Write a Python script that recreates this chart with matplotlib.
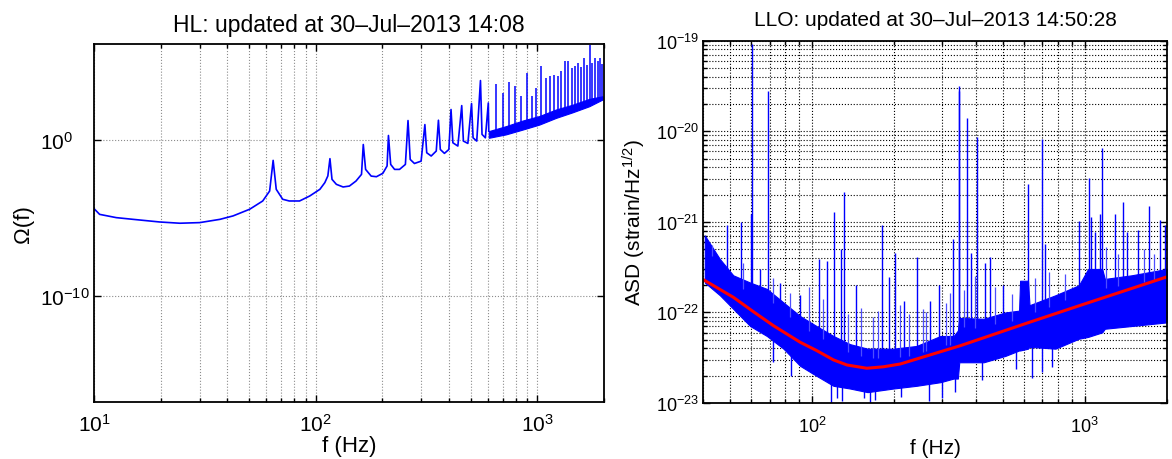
import matplotlib
matplotlib.use('Agg')
import matplotlib.pyplot as plt
import numpy as np
from matplotlib.ticker import LogLocator, FixedLocator, NullLocator, NullFormatter

plt.rcParams['font.family'] = ['Liberation Sans', 'DejaVu Sans']
plt.rcParams['mathtext.fontset'] = 'custom'
plt.rcParams['mathtext.rm'] = 'Liberation Sans'
plt.rcParams['mathtext.it'] = 'Liberation Sans:italic'
plt.rcParams['mathtext.default'] = 'regular'

# ---- HL panel: Omega(f), values read as log10 ----
hl_f = [10, 10.6, 12.6, 15, 19.8, 24.4, 30, 37, 42.4, 50.4, 57.7, 62, 64.3, 66.4, 71, 76, 84.6,
        94, 104.5, 110, 113.5, 116, 118.5, 124, 133, 142, 152, 161, 164, 168, 178, 188, 201,
        210, 213, 218, 227, 239, 254, 261, 267, 279, 299, 311, 317, 332, 350, 358, 365, 381,
        399, 408, 416, 438, 456, 464, 486, 505, 513, 533, 554, 563, 583, 601, 604]
hl_log = [-4.40, -4.77, -4.98, -5.09, -5.26, -5.34, -5.30, -5.09, -4.87, -4.44, -3.91, -3.27, -1.30,
          -3.16, -3.80, -3.91, -3.91, -3.59, -3.16, -2.73, -2.30, -1.19, -2.52, -2.84, -3.01,
          -2.95, -2.63, -2.20, -0.28, -1.88, -2.31, -2.35, -2.13, -1.66, 0.30, -1.56, -1.88,
          -1.88, -1.56, 1.26, -1.24, -1.50, -1.35, 1.00, -0.81, -1.02, -0.70, 1.28, -0.60,
          -0.85, -0.60, 1.97, -0.17, -0.38, 2.22, -0.06, -0.21, 2.35, 0.15, -0.06, 3.83, 0.37,
          0.15, 2.39, 0.58]

hl_band_f = [604, 722, 859, 1021, 1214, 1443, 1715, 1968]
hl_band_lo = [0.15, 0.37, 0.68, 1.00, 1.43, 1.79, 2.18, 2.61]
hl_band_hi = [0.58, 0.90, 1.26, 1.55, 1.97, 2.28, 2.65, 2.82]

hl_spike_f = [651, 701, 748, 796, 845, 896, 943, 989, 1040, 1090, 1138, 1187, 1236, 1284, 1333,
              1382, 1430, 1479, 1528, 1577, 1625, 1674, 1723, 1772, 1820, 1869, 1918, 1967]
hl_spike_top = [3.63, 3.03, 3.72, 3.50, 2.82, 4.34, 2.82, 3.36, 4.79, 4.00, 4.15, 4.21, 4.15, 4.43,
                5.07, 5.07, 4.64, 4.79, 4.93, 4.70, 5.28, 4.85, 6.13, 4.93, 5.28, 5.10, 5.30, 4.90]

# ---- LLO panel: ASD, values read as log10 ----
asd_band_f = [40.5, 46, 51.5, 59.4, 68.4, 78.7, 90.6, 104, 120, 138, 160, 199, 242, 296, 331, 343,
              347, 427, 512, 575, 580, 620, 628, 782, 953, 1030, 1160, 1186, 1486, 2000]
asd_band_lo = [-21.67, -21.81, -21.96, -22.15, -22.26, -22.40, -22.59, -22.70, -22.81, -22.84,
               -22.88, -22.84, -22.81, -22.77, -22.73, -22.73, -22.55, -22.55, -22.48, -22.42,
               -22.42, -22.40, -22.38, -22.40, -22.29, -22.27, -22.22, -22.18, -22.15, -22.11]
asd_band_hi = [-21.15, -21.41, -21.59, -21.67, -21.74, -21.89, -22.04, -22.15, -22.26, -22.35,
               -22.40, -22.40, -22.37, -22.26, -22.26, -22.20, -22.06, -22.07, -22.00, -21.98,
               -21.65, -21.65, -21.92, -21.81, -21.70, -21.52, -21.52, -21.63, -21.59, -21.52]

asd_spike_f = [49.0, 54.8, 59.7, 60.3, 64.3, 68.9, 76.6, 90.6, 106, 113.5, 120.7, 128, 130.7, 145,
               181, 191, 202, 217, 242, 271, 292, 330, 345, 347, 371, 384, 403, 432, 451, 501,
               621, 697, 718, 953, 1037, 1051, 1093, 1138, 1161, 1295, 1381, 1427, 1566, 1725,
               1883, 1967]
asd_spike_top = [-21.03, -21.00, -20.91, -19.04, -21.52, -19.55, -21.67, -21.81, -21.41, -21.43,
                 -20.89, -21.30, -20.67, -21.70, -21.04, -21.61, -21.34, -21.87, -21.39, -21.87,
                 -21.70, -21.19, -19.50, -19.56, -19.85, -21.34, -20.06, -21.45, -21.39, -21.70,
                 -20.58, -20.08, -21.24, -20.99, -20.52, -20.95, -21.11, -20.91, -20.18, -20.91,
                 -20.78, -21.11, -21.09, -20.82, -20.98, -21.04]

# smaller hairs sticking out of the noise band
asd_hair_f = [43, 56, 72, 83, 98, 110, 136, 152, 168, 175, 210, 228, 255, 262, 310, 320, 360,
              395, 470, 540, 660, 740, 850, 1200, 1330, 1650, 1800]
asd_hair_top = [-21.25, -21.45, -21.62, -21.78, -21.72, -21.85, -22.02, -21.95, -22.05, -21.98,
                -21.92, -22.02, -21.96, -22.00, -21.90, -21.78, -21.75, -21.60, -21.72, -21.80,
                -21.62, -21.55, -21.58, -21.28, -21.35, -21.30, -21.36]

asd_dip_f = [72, 84, 118, 124, 129, 155, 163, 170, 212, 268, 300, 335, 420, 560, 640, 700, 760]
asd_dip_bot = [-22.55, -22.70, -23.00, -22.95, -22.98, -22.95, -23.00, -22.97, -22.93, -22.98,
               -22.95, -22.88, -22.75, -22.62, -22.72, -22.66, -22.60]

fit_f = [40, 51.5, 61, 72.3, 90.6, 104, 120, 134.5, 159, 183, 211, 351, 617, 968, 2013]
fit_log = [-21.638, -21.832, -21.991, -22.146, -22.329, -22.42, -22.524, -22.58, -22.616,
           -22.60, -22.569, -22.366, -22.116, -21.92, -21.605]

fig = plt.figure(figsize=(11.72, 4.6), dpi=100)
ax1 = fig.add_axes([0.0802, 0.1239, 0.4352, 0.7783])
ax2 = fig.add_axes([0.6001, 0.1217, 0.3954, 0.7876])

# left panel
ax1.plot(hl_f, 10 ** np.array(hl_log), color='b', lw=1.2)
ax1.fill_between(hl_band_f, 10 ** np.array(hl_band_lo), 10 ** np.array(hl_band_hi),
                 color='b', lw=0.8)
base = np.interp(np.log10(hl_spike_f), np.log10(hl_band_f), hl_band_lo)
ax1.vlines(hl_spike_f, 10 ** base, 10 ** np.array(hl_spike_top), color='b', lw=1.1)
ax1.set_xscale('log')
ax1.set_yscale('log')
ax1.set_xlim(10, 2000)
ax1.set_ylim(10 ** -16.83, 10 ** 6.18)
ax1.xaxis.set_major_locator(FixedLocator([10, 100, 1000]))
ax1.yaxis.set_major_locator(FixedLocator([1e-10, 1e0]))
ax1.yaxis.set_minor_locator(NullLocator())
ax1.xaxis.set_minor_locator(LogLocator(base=10, subs=np.arange(2, 10)))
ax1.xaxis.set_minor_formatter(NullFormatter())
ax1.grid(True, which='major', ls=':', color='0.55', lw=0.8)
ax1.grid(True, which='minor', axis='x', ls=':', color='0.55', lw=0.8)
ax1.set_title('HL: updated at 30\u2013Jul\u20132013 14:08', fontsize=16.5, pad=9)
ax1.set_xlabel('f (Hz)', fontsize=16, labelpad=0)
ax1.set_ylabel('\u03a9(f)', fontsize=16, labelpad=4)
ax1.tick_params(which='both', labelsize=15)
ax1.tick_params(axis='y', which='major', pad=39)
ax1.tick_params(axis='x', which='major', pad=8)
for t in ax1.yaxis.get_major_ticks():
    t.label1.set_horizontalalignment('left')

# right panel
ax2.fill_between(asd_band_f, 10 ** np.array(asd_band_lo), 10 ** np.array(asd_band_hi),
                 color='b', lw=0.8)
base = np.interp(np.log10(asd_spike_f), np.log10(asd_band_f), asd_band_hi)
ax2.vlines(asd_spike_f, 10 ** (base - 0.1), 10 ** np.array(asd_spike_top), color='b', lw=1.0)
base = np.interp(np.log10(asd_hair_f), np.log10(asd_band_f), asd_band_hi)
ax2.vlines(asd_hair_f, 10 ** (base - 0.1), 10 ** np.array(asd_hair_top), color='#4d4dff', lw=0.9)
dbase = np.interp(np.log10(asd_dip_f), np.log10(asd_band_f), asd_band_lo)
ax2.vlines(asd_dip_f, 10 ** np.array(asd_dip_bot), 10 ** (dbase + 0.1), color='b', lw=1.0)
ax2.plot(fit_f, 10 ** np.array(fit_log), color='r', lw=2.2)
ax2.set_xscale('log')
ax2.set_yscale('log')
ax2.set_xlim(40, 2000)
ax2.set_ylim(1e-23, 1e-19)
ax2.xaxis.set_major_locator(FixedLocator([100, 1000]))
ax2.yaxis.set_major_locator(FixedLocator([1e-23, 1e-22, 1e-21, 1e-20, 1e-19]))
ax2.xaxis.set_minor_locator(LogLocator(base=10, subs=np.arange(2, 10)))
ax2.xaxis.set_minor_formatter(NullFormatter())
ax2.yaxis.set_minor_locator(LogLocator(base=10, subs=np.arange(2, 10)))
ax2.yaxis.set_minor_formatter(NullFormatter())
ax2.grid(True, which='both', ls=':', color='k', lw=0.8)
ax2.set_title('LLO: updated at 30\u2013Jul\u20132013 14:50:28', fontsize=15, pad=11)
ax2.set_xlabel('f (Hz)', fontsize=15, labelpad=2)
ax2.set_ylabel('ASD (strain/Hz$^{1/2}$)', fontsize=15, labelpad=6)
ax2.tick_params(which='both', labelsize=13)
ax2.tick_params(axis='y', which='major', pad=3)
ax2.tick_params(axis='x', which='major', pad=9)

for ax in (ax1, ax2):
    ax.set_axisbelow(True)
    for s in ax.spines.values():
        s.set_linewidth(1.3)
    ax.tick_params(which='both', direction='in', top=True, right=True, width=1)
    ax.tick_params(which='major', length=5)
    ax.tick_params(which='minor', length=3)

fig.savefig('out.png', dpi=100)
